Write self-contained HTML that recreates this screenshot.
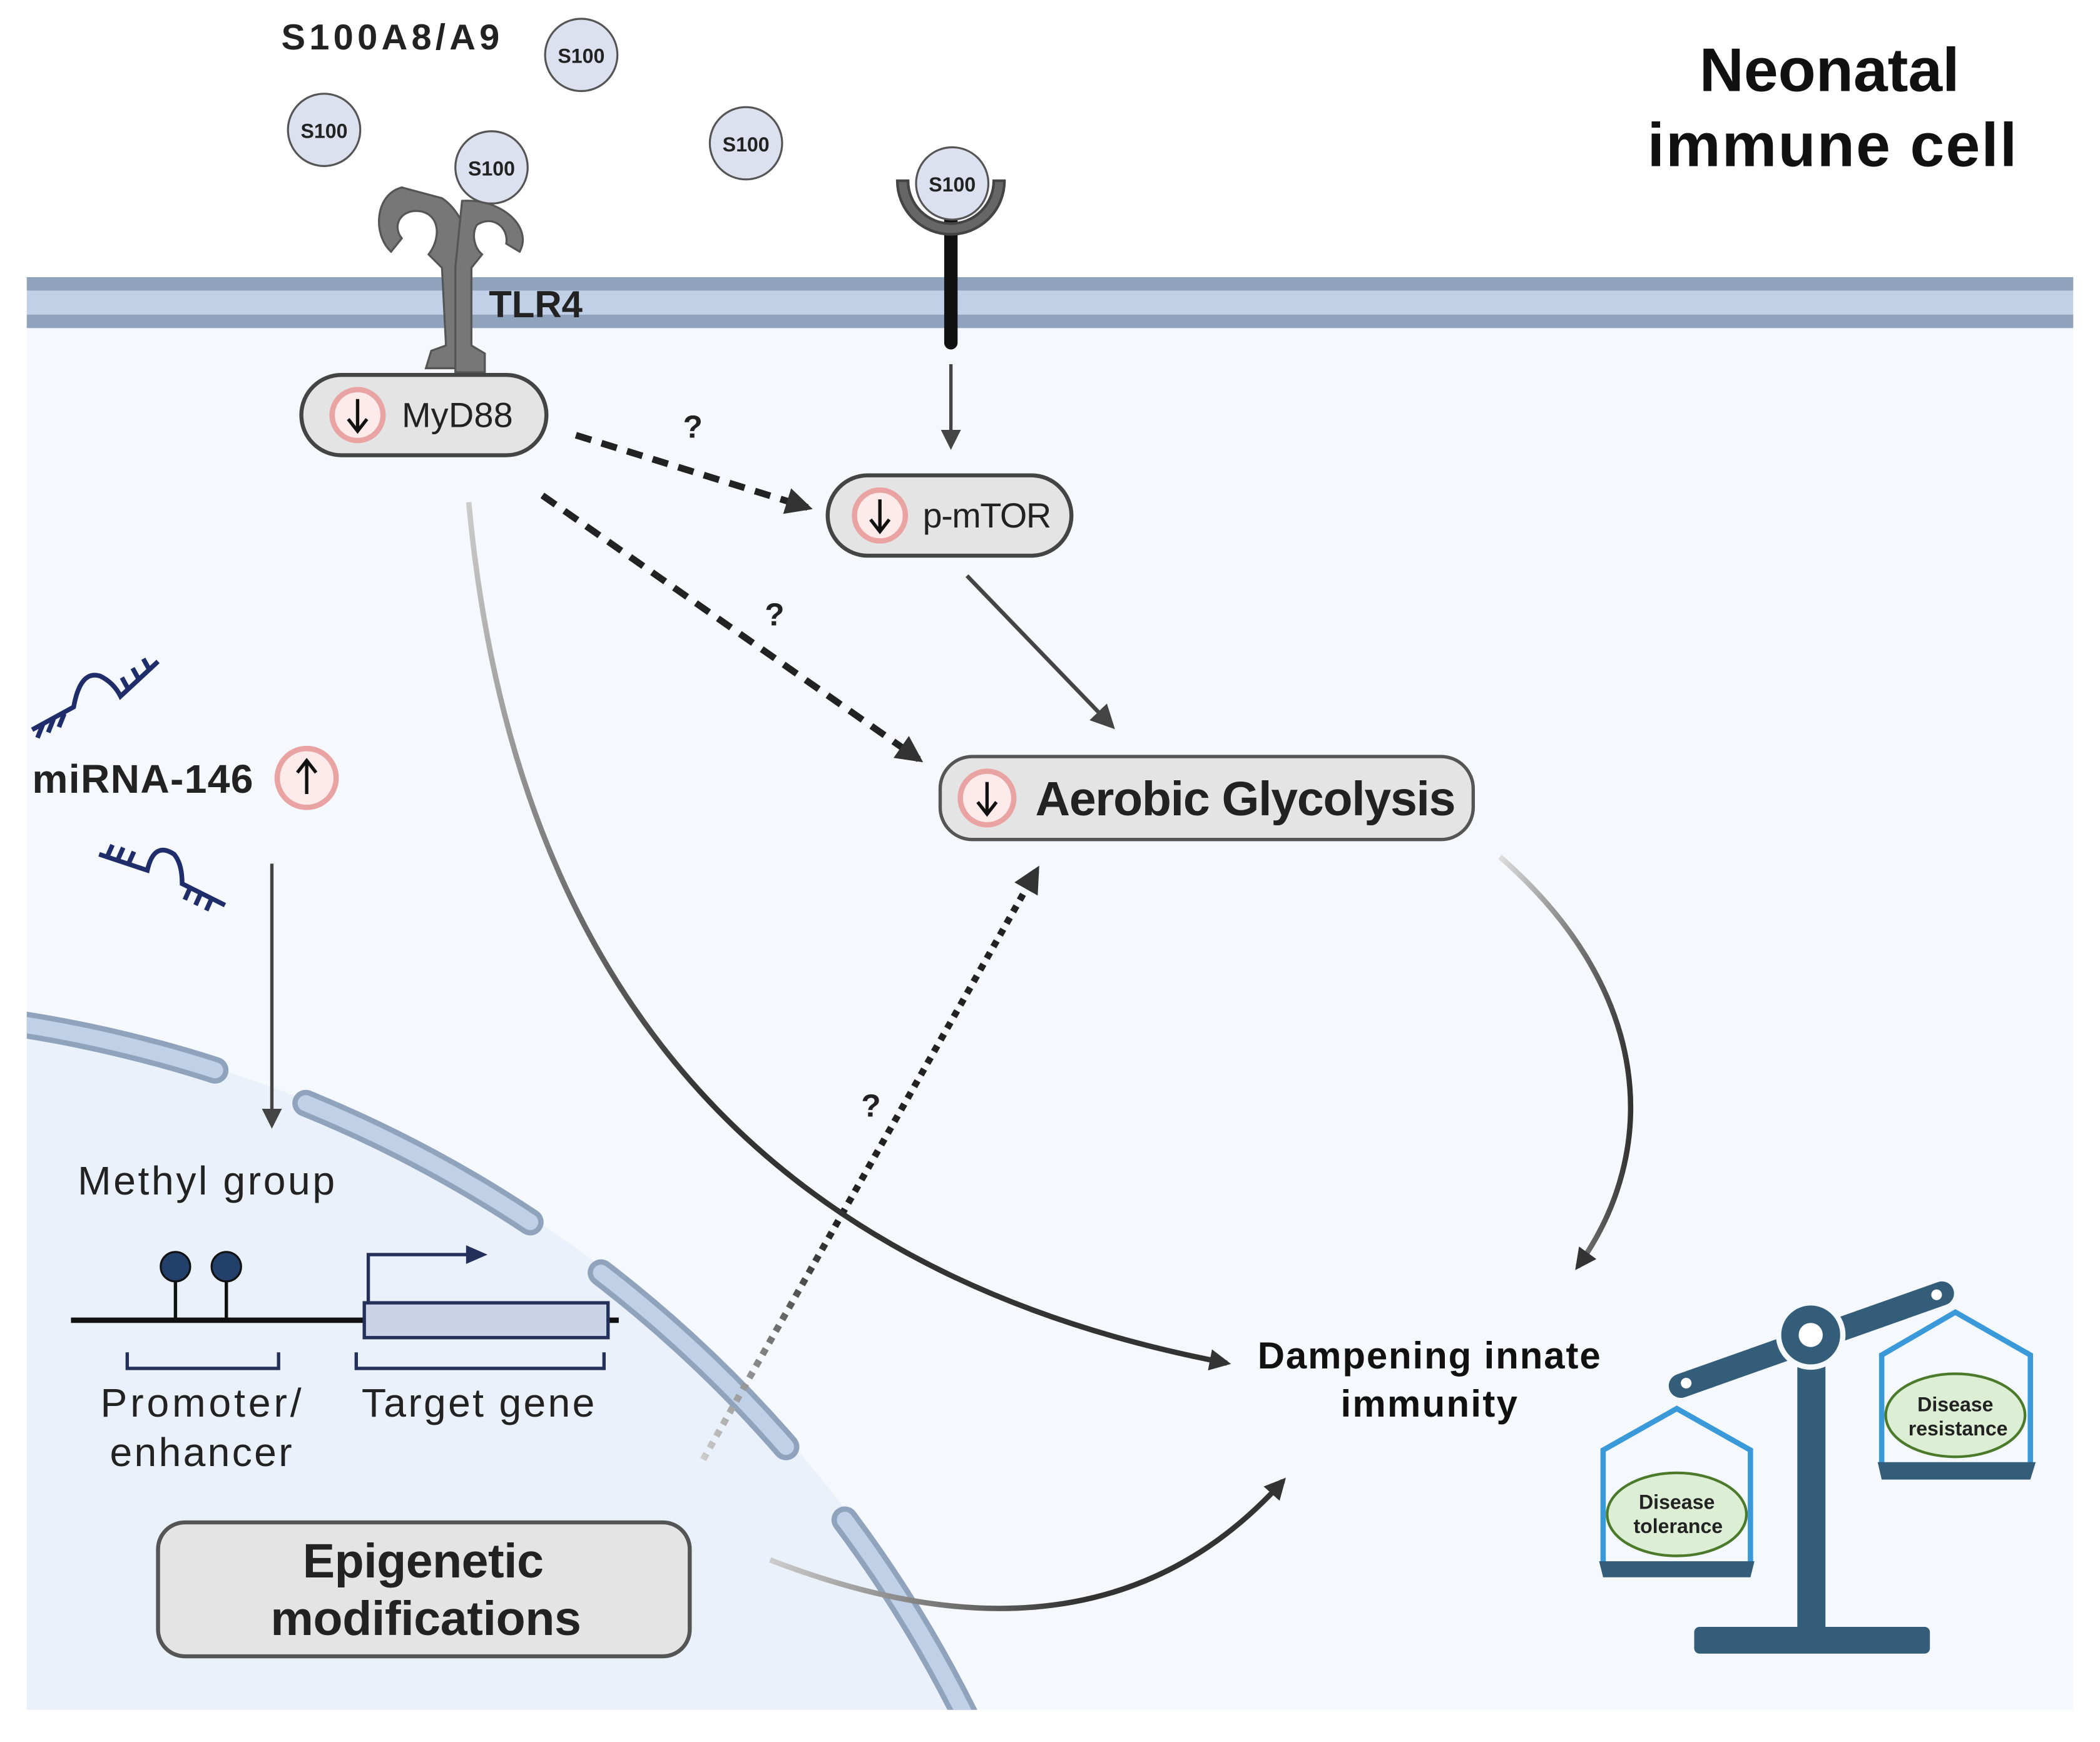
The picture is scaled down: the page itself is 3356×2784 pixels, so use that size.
<!DOCTYPE html>
<html><head><meta charset="utf-8"><style>html,body{margin:0;padding:0;background:#fff}svg{display:block}text{font-family:"Liberation Sans",sans-serif}</style></head>
<body>
<svg width="3356" height="2784" viewBox="0 0 1568 1301" preserveAspectRatio="none" xmlns="http://www.w3.org/2000/svg">
<defs>
<marker id="ah" viewBox="0 0 10 10" refX="8" refY="5" markerWidth="4" markerHeight="4" orient="auto"><path d="M0,0 L10,5 L0,10 z" fill="#333"/></marker>
<marker id="ah2" viewBox="0 0 10 10" refX="8" refY="5" markerWidth="6" markerHeight="6" orient="auto"><path d="M0,0 L10,5 L0,10 z" fill="#444"/></marker>
<linearGradient id="g1" x1="0" y1="0" x2="1" y2="1"><stop offset="0" stop-color="#ccc"/><stop offset="0.5" stop-color="#333"/></linearGradient>
<linearGradient id="g2" x1="0" y1="0" x2="1" y2="0"><stop offset="0" stop-color="#ddd"/><stop offset="1" stop-color="#333"/></linearGradient>
<linearGradient id="g3" x1="0" y1="0" x2="1" y2="0"><stop offset="0" stop-color="#ccc"/><stop offset="0.6" stop-color="#333"/></linearGradient>
<linearGradient id="g4" x1="0" y1="1" x2="1" y2="0"><stop offset="0" stop-color="#ccc"/><stop offset="0.4" stop-color="#222"/></linearGradient>
<clipPath id="cell"><rect x="20" y="207" width="1528" height="1070"/></clipPath>
</defs>
<rect x="20" y="207" width="1528" height="1070" fill="#f5f9fd"/>
<g clip-path="url(#cell)">
<path d="M20 765 A950 950 0 0 1 725 1277 L20 1277 Z" fill="#eaf1fa"/>
<path d="M-5 762 A950 950 0 0 1 725 1290" fill="none" stroke="#8fa3bd" stroke-width="20" stroke-dasharray="170 72 190 65 190 70 200 70" stroke-linecap="round"/>
<path d="M-5 762 A950 950 0 0 1 725 1290" fill="none" stroke="#c0d0e6" stroke-width="12" stroke-dasharray="170 72 190 65 190 70 200 70" stroke-linecap="round"/>
</g>
<rect x="20" y="207" width="1528" height="38" fill="#c0d0e6"/>
<rect x="20" y="207" width="1528" height="10" fill="#8fa3bd"/>
<rect x="20" y="235" width="1528" height="10" fill="#8fa3bd"/>
<text x="210" y="37" font-size="27" font-weight="bold" fill="#222" textLength="163">S100A8/A9</text>
<g fill="#777" stroke="#555" stroke-width="1.5">
<path d="M300 140 C280 145 278 175 292 188 L300 178 C292 168 300 155 315 158 C330 162 328 180 320 190 L330 200 L333 258 L322 262 L318 275 L360 275 L356 262 L346 258 L342 200 C356 190 348 160 330 148 Z"/>
<path d="M345 150 C375 148 398 170 388 188 L378 182 C380 170 368 160 356 168 C352 175 354 185 360 190 L352 200 L352 258 L362 264 L362 278 L340 278 L340 200 Z"/>
</g>
<text x="365" y="237" font-size="28" font-weight="bold" fill="#222">TLR4</text>
<line x1="710" y1="150" x2="710" y2="256" stroke="#111" stroke-width="10" stroke-linecap="round"/>
<path d="M670 135 A40 40 0 0 0 750 135 L742 135 A32 32 0 0 1 678 135 Z" fill="#666" stroke="#444" stroke-width="2"/>
<g font-size="15" font-weight="bold" text-anchor="middle" fill="#222">
<circle cx="434" cy="41" r="27" fill="#dde0ee" stroke="#555" stroke-width="1.5"/><text x="434" y="47">S100</text>
<circle cx="242" cy="97" r="27" fill="#dde0ee" stroke="#555" stroke-width="1.5"/><text x="242" y="103">S100</text>
<circle cx="367" cy="125" r="27" fill="#dde0ee" stroke="#555" stroke-width="1.5"/><text x="367" y="131">S100</text>
<circle cx="557" cy="107" r="27" fill="#dde0ee" stroke="#555" stroke-width="1.5"/><text x="557" y="113">S100</text>
<circle cx="711" cy="137" r="27" fill="#dde0ee" stroke="#555" stroke-width="1.5"/><text x="711" y="143">S100</text>
</g>
<text x="1366" y="68" font-size="46" font-weight="bold" text-anchor="middle" fill="#111">Neonatal</text>
<text x="1368" y="124" font-size="46" font-weight="bold" text-anchor="middle" fill="#111" textLength="276">immune cell</text>
<line x1="710" y1="272" x2="710" y2="333" stroke="#444" stroke-width="2.5" marker-end="url(#ah2)"/>
<line x1="722" y1="430" x2="830" y2="542" stroke="#444" stroke-width="3" marker-end="url(#ah2)"/>
<line x1="203" y1="645" x2="203" y2="840" stroke="#444" stroke-width="2.5" marker-end="url(#ah2)"/>
<line x1="430" y1="325" x2="603" y2="379" stroke="#222" stroke-width="5" stroke-dasharray="12 8" marker-end="url(#ah)"/>
<line x1="405" y1="370" x2="686" y2="567" stroke="#222" stroke-width="5" stroke-dasharray="12 8" marker-end="url(#ah)"/>
<line x1="525" y1="1090" x2="774" y2="650" stroke="url(#g4)" stroke-width="5" stroke-dasharray="5 5" marker-end="url(#ah)"/>
<g font-size="24" font-weight="bold" fill="#222"><text x="510" y="327">?</text><text x="571" y="467">?</text><text x="643" y="834">?</text></g>
<path d="M350 375 Q 400 920 916 1018" fill="none" stroke="url(#g1)" stroke-width="4" marker-end="url(#ah)"/>
<path d="M1120 640 C1235 740 1240 860 1178 946" fill="none" stroke="url(#g2)" stroke-width="4" marker-end="url(#ah)"/>
<path d="M575 1165 Q 820 1260 958 1106" fill="none" stroke="url(#g3)" stroke-width="4" marker-end="url(#ah)"/>
<rect x="225" y="280" width="183" height="60" rx="30" fill="#e4e4e4" stroke="#444" stroke-width="3"/>
<circle cx="267" cy="310" r="19" fill="#fdeaea" stroke="#e9a3a3" stroke-width="4"/>
<path d="M267 298 V320 M260 313 L267 322 L274 313" stroke="#111" stroke-width="2.5" fill="none"/>
<text x="300" y="319" font-size="26" fill="#222" textLength="83">MyD88</text>
<rect x="618" y="355" width="182" height="60" rx="30" fill="#e4e4e4" stroke="#444" stroke-width="3"/>
<circle cx="657" cy="385" r="19" fill="#fdeaea" stroke="#e9a3a3" stroke-width="4"/>
<path d="M657 373 V395 M650 388 L657 397 L664 388" stroke="#111" stroke-width="2.5" fill="none"/>
<text x="689" y="394" font-size="26" fill="#222" textLength="96">p-mTOR</text>
<rect x="702" y="565" width="398" height="62" rx="24" fill="#e4e4e4" stroke="#555" stroke-width="2.5"/>
<circle cx="737" cy="596" r="20" fill="#fdeaea" stroke="#e9a3a3" stroke-width="4"/>
<path d="M737 584 V606 M730 599 L737 608 L744 599" stroke="#111" stroke-width="2.5" fill="none"/>
<text x="773" y="609" font-size="36" font-weight="bold" fill="#222" textLength="314">Aerobic Glycolysis</text>
<g stroke="#1f2d6b" stroke-width="3.5" fill="none">
<path d="M24 545 L55 528 Q60 500 75 505 Q85 510 90 520 L118 494"/>
<path d="M32 541 l-4 10 M40 537 l-4 10 M48 533 l-4 10 M96 515 l-5 -9 M104 508 l-5 -9 M112 501 l-5 -9"/>
<path d="M74 638 L110 650 Q115 628 130 638 Q136 645 136 660 L168 676"/>
<path d="M80 640 l4 -9 M88 642 l4 -9 M96 645 l4 -9 M142 663 l-4 9 M150 667 l-4 9 M158 671 l-4 9"/>
</g>
<text x="24" y="592" font-size="30" font-weight="bold" fill="#222" textLength="165">miRNA-146</text>
<circle cx="229" cy="581" r="22" fill="#fdeaea" stroke="#e9a3a3" stroke-width="4"/>
<path d="M229 593 V570 M222 577 L229 568 L236 577" stroke="#111" stroke-width="2.5" fill="none"/>
<text x="58" y="892" font-size="30" fill="#222" textLength="192">Methyl group</text>
<line x1="53" y1="986" x2="462" y2="986" stroke="#111" stroke-width="4"/>
<line x1="131" y1="986" x2="131" y2="950" stroke="#111" stroke-width="2.5"/>
<line x1="169" y1="986" x2="169" y2="950" stroke="#111" stroke-width="2.5"/>
<circle cx="131" cy="946" r="11" fill="#23406a" stroke="#111" stroke-width="1.5"/>
<circle cx="169" cy="946" r="11" fill="#23406a" stroke="#111" stroke-width="1.5"/>
<rect x="272" y="973" width="182" height="26" fill="#ccd3e8" stroke="#23305a" stroke-width="2.5"/>
<path d="M275 973 V937 H352" stroke="#23305a" stroke-width="2.5" fill="none"/>
<path d="M348 930 L364 937 L348 944 Z" fill="#23305a"/>
<path d="M95 1010 V1022 H208 V1010 M266 1010 V1022 H451 V1010" stroke="#23305a" stroke-width="2.5" fill="none"/>
<g font-size="30" fill="#222" text-anchor="middle"><text x="150" y="1058" textLength="150">Promoter/</text><text x="150" y="1095" textLength="136">enhancer</text><text x="357" y="1058" textLength="174">Target gene</text></g>
<rect x="118" y="1137" width="397" height="100" rx="20" fill="#e4e4e4" stroke="#555" stroke-width="3"/>
<g font-size="36" font-weight="bold" fill="#222" text-anchor="middle"><text x="316" y="1178" textLength="180">Epigenetic</text><text x="318" y="1221" textLength="232">modifications</text></g>
<g font-size="28" font-weight="bold" fill="#111" text-anchor="middle"><text x="1067" y="1022" textLength="256">Dampening innate</text><text x="1067" y="1058" textLength="132">immunity</text></g>
<g>
<rect x="1342" y="1010" width="21" height="210" fill="#335d78"/>
<rect x="1265" y="1215" width="176" height="20" rx="4" fill="#335d78"/>
<line x1="1255" y1="1035" x2="1450" y2="966" stroke="#335d78" stroke-width="18" stroke-linecap="round"/>
<circle cx="1259" cy="1033" r="4" fill="#fff"/><circle cx="1446" cy="967" r="4" fill="#fff"/>
<circle cx="1352" cy="997" r="24" fill="#335d78" stroke="#f5f9fd" stroke-width="4"/>
<circle cx="1352" cy="997" r="9" fill="#fff"/>
<path d="M1197 1167 V1083 L1252 1052 L1307 1083 V1167" fill="none" stroke="#3a9ad9" stroke-width="4"/>
<path d="M1194 1166 H1310 L1307 1178 H1197 Z" fill="#335d78"/>
<ellipse cx="1252" cy="1131" rx="52" ry="31" fill="#dcefd5" stroke="#4a7a2a" stroke-width="2"/>
<g font-size="15" font-weight="bold" fill="#222" text-anchor="middle"><text x="1252" y="1127">Disease</text><text x="1253" y="1145">tolerance</text></g>
<path d="M1405 1093 V1012 L1460 980 L1516 1012 V1093" fill="none" stroke="#3a9ad9" stroke-width="4"/>
<path d="M1402 1092 H1520 L1516 1105 H1405 Z" fill="#335d78"/>
<ellipse cx="1460" cy="1057" rx="52" ry="31" fill="#dcefd5" stroke="#4a7a2a" stroke-width="2"/>
<g font-size="15" font-weight="bold" fill="#222" text-anchor="middle"><text x="1460" y="1054">Disease</text><text x="1462" y="1072">resistance</text></g>
</g>
</svg>
</body></html>
